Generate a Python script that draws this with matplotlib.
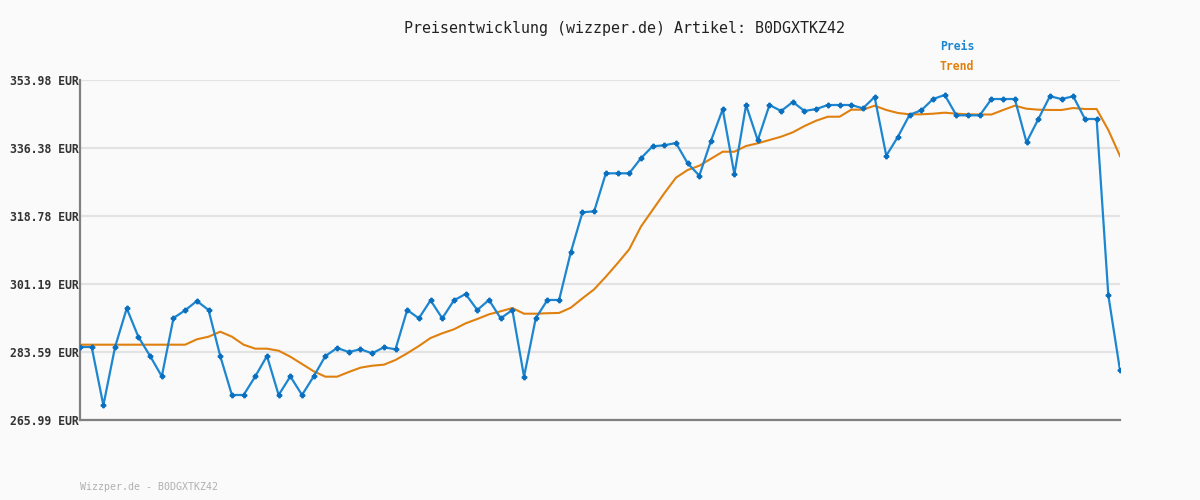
import matplotlib
matplotlib.use('Agg')
import matplotlib.pyplot as plt
import numpy as np

# price readings (EUR), one per point on the x axis
preis = [284.88, 284.88, 269.79, 284.88, 294.89, 287.47, 282.55, 277.28, 292.38, 294.38,
         296.79, 294.46, 282.55, 272.46, 272.46, 277.28, 282.55, 272.46, 277.28, 272.46,
         277.28, 282.55, 284.62, 283.59, 284.29, 283.25, 284.80, 284.29, 294.46, 292.31,
         296.96, 292.31, 296.96, 298.60, 294.46, 297.05, 292.31, 294.46, 277.20, 292.31,
         297.05, 297.05, 309.39, 319.74, 319.99, 329.83, 329.83, 329.83, 333.72, 336.82,
         337.08, 337.68, 332.42, 329.22, 338.27, 346.40, 329.57, 347.51, 338.37, 347.51,
         345.96, 348.29, 345.96, 346.47, 347.51, 347.51, 347.51, 346.65, 349.58, 334.39,
         339.31, 345.00, 346.14, 349.06, 350.10, 344.84, 344.84, 344.84, 349.06, 349.06,
         349.06, 337.86, 343.81, 349.76, 349.06, 349.76, 343.89, 343.89, 298.26, 278.85]

trend = [285.48, 285.48, 285.48, 285.48, 285.48, 285.48, 285.48, 285.48, 285.48, 285.48,
         286.87, 287.55, 288.84, 287.55, 285.48, 284.45, 284.45, 283.92, 282.37, 280.48,
         278.59, 277.20, 277.20, 278.41, 279.53, 280.04, 280.30, 281.52, 283.25, 285.14,
         287.21, 288.43, 289.46, 291.01, 292.13, 293.34, 294.12, 294.97, 293.50, 293.50,
         293.62, 293.70, 295.05, 297.48, 299.81, 303.07, 306.54, 310.17, 316.02, 320.34,
         324.66, 328.70, 330.69, 331.80, 333.61, 335.42, 335.42, 336.90, 337.60, 338.45,
         339.31, 340.44, 342.07, 343.45, 344.48, 344.48, 346.30, 346.30, 347.33, 346.22,
         345.44, 345.10, 345.10, 345.26, 345.52, 345.26, 345.10, 345.05, 345.05, 346.22,
         347.33, 346.55, 346.30, 346.22, 346.22, 346.73, 346.47, 346.47, 341.04, 334.31]

yticks = [265.99, 283.59, 301.19, 318.78, 336.38, 353.98]
artikel = 'B0DGXTKZ42'

bg = '#fafafa'
blue = '#1c86d0'
orange = '#e0800e'
mono = 'DejaVu Sans Mono'

fig = plt.figure(figsize=(12, 5), dpi=100, facecolor=bg)
ax = fig.add_axes([80/1200, 80/500, 1040/1200, 340/500], facecolor=bg)

x = np.arange(len(preis))
ax.plot(x, trend, color=orange, lw=1.5, zorder=3)
ax.plot(x, preis, color=blue, lw=1.6, marker='P', markersize=3.2,
        markerfacecolor='#0a6fbf', markeredgecolor='#0a6fbf', zorder=4)

ax.set_xlim(0, len(preis) - 1)
ax.set_ylim(yticks[0], yticks[-1])
ax.set_yticks(yticks)
ax.set_yticklabels([f'{v:.2f} EUR' for v in yticks], fontfamily=mono,
                   fontweight='bold', fontsize=8.3, color='#333333')
ax.set_xticks([])
ax.tick_params(axis='y', length=0, pad=1)
ax.grid(axis='y', color='#e3e3e3', lw=1.6, zorder=0)
for s in ['top', 'right']:
    ax.spines[s].set_visible(False)
for s in ['left', 'bottom']:
    ax.spines[s].set_color('#808080')
    ax.spines[s].set_linewidth(1.6)

fig.text(0.52, 1 - 28/500, f'Preisentwicklung (wizzper.de) Artikel: {artikel}',
         ha='center', va='center', fontfamily=mono, fontsize=10.8, color='#222222')
fig.text(940/1200, 1 - 47/500, 'Preis', ha='left', va='center', fontfamily=mono,
         fontweight='bold', fontsize=8.3, color=blue)
fig.text(940/1200, 1 - 67/500, 'Trend', ha='left', va='center', fontfamily=mono,
         fontweight='bold', fontsize=8.3, color=orange)
fig.text(80/1200, 1 - 487/500, f'Wizzper.de - {artikel}', ha='left', va='center',
         fontfamily=mono, fontsize=7.2, color='#b0b0b0')

fig.savefig('out.png', dpi=100, facecolor=bg)
